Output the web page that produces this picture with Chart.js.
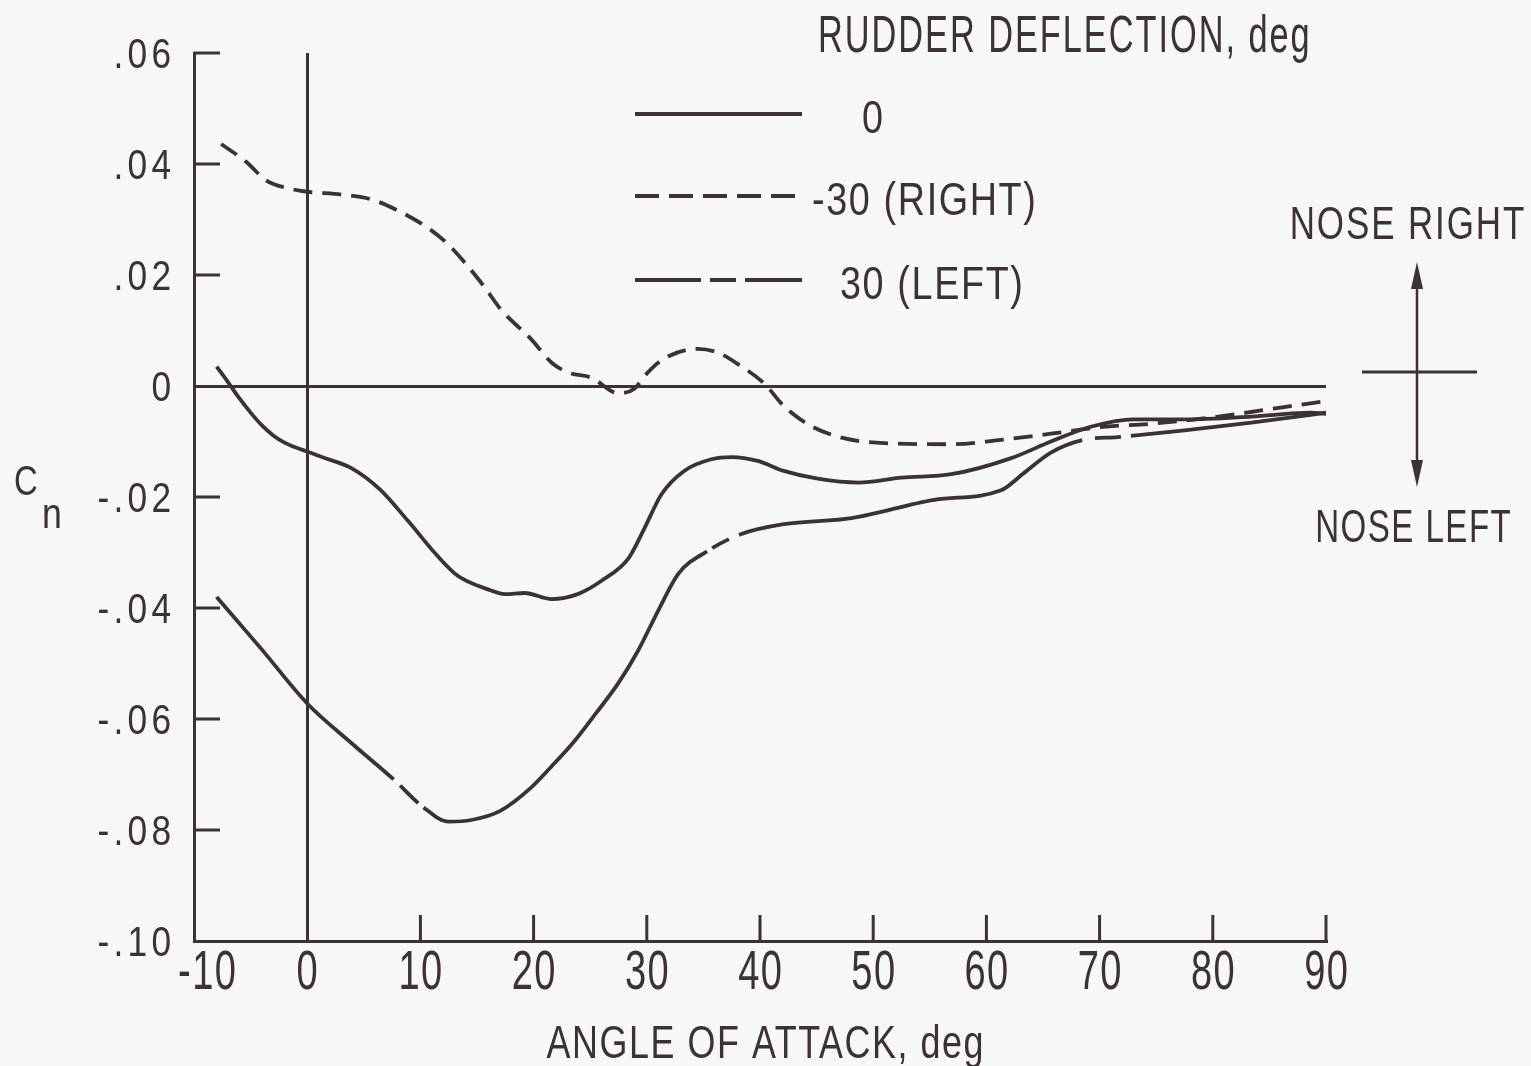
<!DOCTYPE html>
<html>
<head>
<meta charset="utf-8">
<script src="https://cdn.jsdelivr.net/npm/chart.js@4.4.1/dist/chart.umd.min.js"></script>
<style>
  html, body { margin: 0; padding: 0; background: #f7f7f6; }
  canvas { display: block; background: #f7f7f6; }
</style>
</head>
<body>
<canvas id="chart" width="1531" height="1066"></canvas>
<script>
// Yawing-moment coefficient Cn against angle of attack for three rudder settings.
const alphaRudder0 = [-8, -7, -6, -5, -4, -3, -2, -1, 0, 1.3, 3.9, 6.4, 8.9, 11.5, 13.3, 15.9, 17.5, 19.2, 21.6, 23.9, 26, 28.4, 29.8, 31.3, 33.3, 35.7, 37.5, 39.8, 42.1, 45.1, 48.7, 52.5, 56.9, 62.2, 65.7, 69.3, 73, 77.5, 83.4, 88.7, 90];
const cnRudder0 = [0.0035, 0.0007, -0.0022, -0.0048, -0.0071, -0.0089, -0.0102, -0.0111, -0.0118, -0.0128, -0.0148, -0.0186, -0.0243, -0.0306, -0.0342, -0.0366, -0.0375, -0.0373, -0.0384, -0.0375, -0.0351, -0.031, -0.0256, -0.0195, -0.0153, -0.0132, -0.0128, -0.0135, -0.0153, -0.0167, -0.0174, -0.0165, -0.0159, -0.013, -0.01, -0.0073, -0.006, -0.006, -0.0055, -0.0048, -0.005];

const alphaRudderRight = [-7.6, -5.4, -3.6, -1.4, 0, 3, 5.7, 8.3, 11, 12.7, 15.6, 17.1, 19.8, 21.6, 23.1, 25.1, 27.5, 28.9, 29.8, 31.5, 34.5, 36.3, 38.3, 40.4, 42.1, 44.5, 47.4, 51, 56.9, 61.3, 65.7, 70.1, 74.6, 80.5, 86.3, 90];
const cnRudderRight = [0.0436, 0.0404, 0.037, 0.0355, 0.035, 0.0345, 0.0336, 0.0313, 0.028, 0.025, 0.018, 0.0138, 0.0084, 0.0042, 0.0024, 0.0015, -0.0013, -0.0005, 0.0018, 0.0049, 0.0067, 0.006, 0.0036, 0.0004, -0.0036, -0.0072, -0.0094, -0.0103, -0.0105, -0.0097, -0.0086, -0.0074, -0.0068, -0.0055, -0.0038, -0.0027];

const alphaRudderLeft = [-8, -4, 0, 4, 7.7, 10.2, 12.5, 14.5, 17.1, 19.7, 21.6, 23.6, 25.5, 27.5, 29.2, 31, 32.8, 35.4, 38.3, 42.1, 48.1, 55.4, 61.3, 63.3, 65.7, 68.6, 71.6, 77.5, 83.4, 89.3, 90];
const cnRudderLeft = [-0.038, -0.0475, -0.0572, -0.0645, -0.071, -0.0758, -0.0785, -0.0782, -0.0765, -0.0725, -0.0685, -0.064, -0.059, -0.0535, -0.0478, -0.0405, -0.0338, -0.0297, -0.0267, -0.0249, -0.0238, -0.0205, -0.0188, -0.0157, -0.012, -0.0097, -0.0092, -0.008, -0.0066, -0.005, -0.0048];

const xTickValues = [-10, 0, 10, 20, 30, 40, 50, 60, 70, 80, 90];
const xTickLabels = ['-10', '0', '10', '20', '30', '40', '50', '60', '70', '80', '90'];
const yTickValues = [0.06, 0.04, 0.02, 0, -0.02, -0.04, -0.06, -0.08, -0.10];
const yTickLabels = ['.06', '.04', '.02', '0', '-.02', '-.04', '-.06', '-.08', '-.10'];

const legendTitle = 'RUDDER DEFLECTION, deg';
const seriesLabels = ['0', '-30 (RIGHT)', '30 (LEFT)'];
const xTitle = 'ANGLE OF ATTACK, deg';

const INK = '#3b3233';
const FONT = "'Liberation Sans Narrow', 'Liberation Sans', sans-serif";

// hand-drawn long/short dash run of the +30 deg curve
const leftRudderDash = [255, 9, 25, 7, 419, 6, 19, 11, 363, 13, 26, 10, 2000];

function points(xs, ys) {
  return xs.map((x, i) => ({ x: x, y: ys[i] }));
}

// Draw text squeezed horizontally to give a condensed face.
function drawText(ctx, s, x, y, size, opt) {
  const o = Object.assign({ sx: 1, align: 'left', spacing: 0 }, opt || {});
  ctx.save();
  ctx.font = size + 'px ' + FONT;
  ctx.fillStyle = INK;
  ctx.textBaseline = 'alphabetic';
  ctx.textAlign = 'left';
  if ('letterSpacing' in ctx) ctx.letterSpacing = o.spacing + 'px';
  const w = (ctx.measureText(s).width - o.spacing) * o.sx;
  let x0 = x;
  if (o.align === 'center') x0 = x - w / 2;
  else if (o.align === 'right') x0 = x - w;
  ctx.translate(x0, y);
  ctx.scale(o.sx, 1);
  ctx.fillText(s, 0, 0);
  ctx.restore();
}

function line(ctx, x1, y1, x2, y2, w, dash) {
  ctx.save();
  ctx.strokeStyle = INK;
  ctx.lineWidth = w;
  ctx.lineCap = 'butt';
  ctx.setLineDash(dash || []);
  ctx.beginPath();
  ctx.moveTo(x1, y1);
  ctx.lineTo(x2, y2);
  ctx.stroke();
  ctx.restore();
}

function arrowHead(ctx, x, y, dir) {
  // dir = -1 points up, +1 points down
  ctx.save();
  ctx.fillStyle = INK;
  ctx.beginPath();
  ctx.moveTo(x, y);
  ctx.lineTo(x - 6, y - dir * 27);
  ctx.lineTo(x + 6, y - dir * 27);
  ctx.closePath();
  ctx.fill();
  ctx.restore();
}

const isZero = v => Math.abs(v) < 1e-9;

const decorations = {
  id: 'decorations',
  afterDraw(chart) {
    const ctx = chart.ctx;
    const xs = chart.scales.x, ys = chart.scales.y;
    const area = chart.chartArea;
    const tickLen = 26;

    // inward tick marks
    xTickValues.forEach(v => {
      if (v === xs.min || isZero(v)) return;
      const px = xs.getPixelForValue(v);
      line(ctx, px, area.bottom, px, area.bottom - tickLen, 3);
    });
    yTickValues.forEach(v => {
      if (isZero(v) || Math.abs(v - ys.min) < 1e-9) return;
      const py = ys.getPixelForValue(v);
      line(ctx, area.left, py, area.left + tickLen, py, 3);
    });

    // tick labels
    xTickValues.forEach((v, i) => {
      const px = xs.getPixelForValue(v) + (v < 0 ? 13 : 0);
      drawText(ctx, xTickLabels[i], px, area.bottom + 48, 56, { sx: 0.68, align: 'center', spacing: 2 });
    });
    yTickValues.forEach((v, i) => {
      const py = ys.getPixelForValue(v);
      drawText(ctx, yTickLabels[i], area.left - 23, py + 15, 42, { sx: 0.84, align: 'right', spacing: 5 });
    });

    // axis titles
    drawText(ctx, 'C', 14, 495, 42, { sx: 0.78 });
    drawText(ctx, 'n', 42, 528, 42, { sx: 0.85 });
    drawText(ctx, xTitle, (area.left + area.right) / 2 + 5, 1058, 46, { sx: 0.78, align: 'center', spacing: 2 });

    // legend
    drawText(ctx, legendTitle, 818, 52, 52, { sx: 0.66, spacing: 3 });
    const rows = [114, 196, 280];
    const sampleDash = [[], [24, 10], [66, 9, 26, 9]];
    const labelLeft = [862, 812, 840];
    rows.forEach((ry, i) => {
      line(ctx, 635, ry, 802, ry, 4, sampleDash[i]);
      drawText(ctx, seriesLabels[i], labelLeft[i], ry + 19, 46, { sx: 0.82, spacing: 2 });
    });

    // sign convention marker
    const zy = ys.getPixelForValue(0) - 14;
    const cx = area.right + 91;
    drawText(ctx, 'NOSE RIGHT', cx - 10, zy - 133, 46, { sx: 0.76, align: 'center', spacing: 2.5 });
    drawText(ctx, 'NOSE LEFT', cx - 4, zy + 170, 46, { sx: 0.72, align: 'center', spacing: 2 });
    line(ctx, cx, zy - 100, cx, zy + 105, 2.5);
    arrowHead(ctx, cx, zy - 110, -1);
    arrowHead(ctx, cx, zy + 115, 1);
    line(ctx, cx - 55, zy, cx + 60, zy, 3);
  }
};

const baseLine = {
  borderColor: INK,
  borderWidth: 3.8,
  pointRadius: 0,
  fill: false,
  cubicInterpolationMode: 'monotone',
  borderCapStyle: 'butt'
};

new Chart(document.getElementById('chart'), {
  type: 'line',
  data: {
    datasets: [
      Object.assign({ label: seriesLabels[0], data: points(alphaRudder0, cnRudder0) }, baseLine),
      Object.assign({ label: seriesLabels[1], data: points(alphaRudderRight, cnRudderRight), borderDash: [19, 10] }, baseLine),
      Object.assign({ label: seriesLabels[2], data: points(alphaRudderLeft, cnRudderLeft), borderDash: leftRudderDash }, baseLine)
    ]
  },
  options: {
    responsive: false,
    animation: false,
    devicePixelRatio: 1,
    layout: { padding: { left: 194, right: 205, top: 53, bottom: 125 } },
    plugins: { legend: { display: false }, tooltip: { enabled: false } },
    scales: {
      x: {
        type: 'linear',
        min: -10, max: 90,
        ticks: { display: false, stepSize: 10 },
        grid: {
          drawTicks: false,
          lineWidth: 3,
          color: c => (c.tick && isZero(c.tick.value)) ? INK : 'rgba(0,0,0,0)'
        },
        border: { display: true, color: INK, width: 3 }
      },
      y: {
        type: 'linear',
        min: -0.10, max: 0.06,
        ticks: { display: false, stepSize: 0.02 },
        grid: {
          drawTicks: false,
          lineWidth: 3,
          color: c => (c.tick && isZero(c.tick.value)) ? INK : 'rgba(0,0,0,0)'
        },
        border: { display: true, color: INK, width: 3 }
      }
    }
  },
  plugins: [decorations]
});
</script>
</body>
</html>
